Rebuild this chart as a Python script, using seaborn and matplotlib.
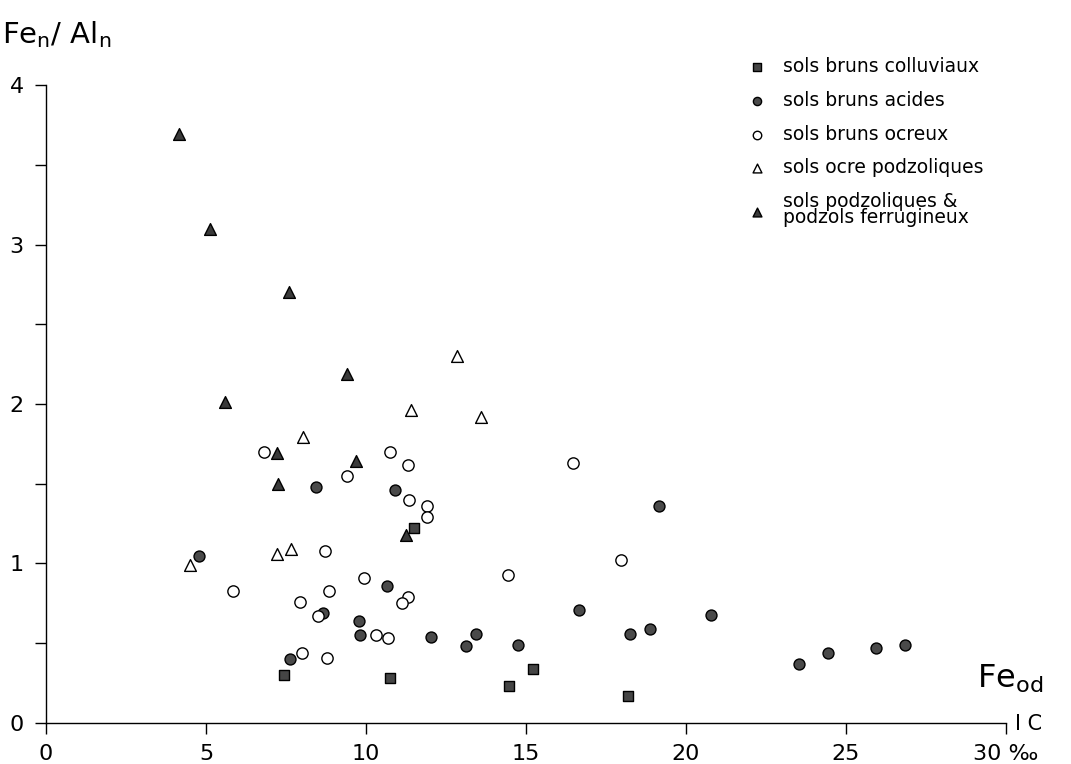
import pandas as pd
import seaborn as sns
import matplotlib.pyplot as plt
from matplotlib.ticker import MultipleLocator

# values (x = Fe od IC in per mille, y = Fe n / Al n)
coll_x = [7.44, 10.75, 14.47, 15.22, 18.18, 11.5]
coll_y = [0.30, 0.28, 0.23, 0.34, 0.17, 1.22]

acid_x = [4.77, 7.63, 8.45, 8.67, 9.79, 9.83, 10.67, 10.9, 12.02, 13.12, 13.44,
          14.76, 16.67, 18.26, 18.88, 19.17, 20.78, 23.54, 24.44, 25.94, 26.85]
acid_y = [1.05, 0.40, 1.48, 0.69, 0.64, 0.55, 0.86, 1.46, 0.54, 0.48, 0.56,
          0.49, 0.71, 0.56, 0.59, 1.36, 0.68, 0.37, 0.44, 0.47, 0.49]

ocre_x = [6.82, 9.40, 10.76, 11.32, 11.35, 11.9, 11.92, 8.72, 5.83, 8.86, 9.93,
          7.95, 8.5, 11.32, 11.13, 10.32, 10.69, 7.99, 8.79, 16.48, 17.97, 14.43]
ocre_y = [1.70, 1.55, 1.70, 1.62, 1.40, 1.36, 1.29, 1.08, 0.83, 0.83, 0.91,
          0.76, 0.67, 0.79, 0.75, 0.55, 0.53, 0.44, 0.41, 1.63, 1.02, 0.93]

opodz_x = [4.5, 7.21, 7.67, 8.02, 11.4, 13.6, 12.84]
opodz_y = [0.99, 1.06, 1.09, 1.79, 1.96, 1.92, 2.30]

podz_x = [4.15, 5.13, 7.61, 9.41, 5.6, 7.22, 7.25, 9.70, 11.25]
podz_y = [3.69, 3.10, 2.70, 2.19, 2.01, 1.69, 1.50, 1.64, 1.18]

labels = ["sols bruns colluviaux", "sols bruns acides", "sols bruns ocreux",
          "sols ocre podzoliques", "sols podzoliques &\npodzols ferrugineux"]

sns.set_style("ticks")
plt.rcParams['font.family'] = ['DejaVu Sans']
plt.rcParams['text.color'] = 'black'

fig = plt.figure(figsize=(10.71, 7.64), dpi=100)
ax = fig.add_axes([0.043, 0.0537, 0.896, 0.835])

# (x, y, marker, face, size)
groups = [
    (coll_x, coll_y, "s", "#454545", 55),
    (acid_x, acid_y, "o", "#4a4a4a", 62),
    (ocre_x, ocre_y, "o", "white", 66),
    (opodz_x, opodz_y, "^", "white", 72),
    (podz_x, podz_y, "^", "#3a3a3a", 72),
]
for (gx, gy, m, fc, s), lab in zip(groups, labels):
    df = pd.DataFrame({"x": gx, "y": gy})
    sns.scatterplot(data=df, x="x", y="y", marker=m, color=fc, edgecolor="black",
                    linewidth=1.0, s=s, label=lab, ax=ax, zorder=3)

ax.set_xlim(0, 30)
ax.set_ylim(0, 4)
sns.despine(ax=ax)
for sp in ["left", "bottom"]:
    ax.spines[sp].set_color("black")
    ax.spines[sp].set_linewidth(1.0)

ax.set_xticks([0, 5, 10, 15, 20, 25, 30])
ax.set_xticklabels(["0", "5", "10", "15", "20", "25", "30 \u2030"])
ax.set_yticks([0, 1, 2, 3, 4])
ax.yaxis.set_minor_locator(MultipleLocator(0.5))
ax.tick_params(axis="both", which="both", direction="out", length=8, width=1.0,
               colors="black", labelsize=16, labelcolor="black")
ax.tick_params(axis="x", pad=7)
ax.tick_params(axis="y", pad=8)
ax.set_xlabel("")
ax.set_ylabel("")

leg = ax.legend(loc="upper left", bbox_to_anchor=(0.682, 0.947),
                bbox_transform=fig.transFigure, frameon=False, fontsize=13.5,
                handletextpad=0.9, labelspacing=0.78, markerscale=0.75,
                handlelength=1.0)
for t in leg.get_texts():
    t.set_color("black")
leg.get_texts()[4].set_linespacing(0.8)

# axis titles as drawn on the original sheet
fig.text(0.002, 0.955, "Fe$_\\mathrm{n}$/ Al$_\\mathrm{n}$", fontsize=21,
         ha="left", va="center")
fig.text(0.912, 0.112, "Fe$_\\mathrm{od}$", fontsize=23, ha="left", va="center")
fig.text(0.948, 0.052, "I C", fontsize=15, ha="left", va="center")

plt.savefig("out.png", dpi=100)
